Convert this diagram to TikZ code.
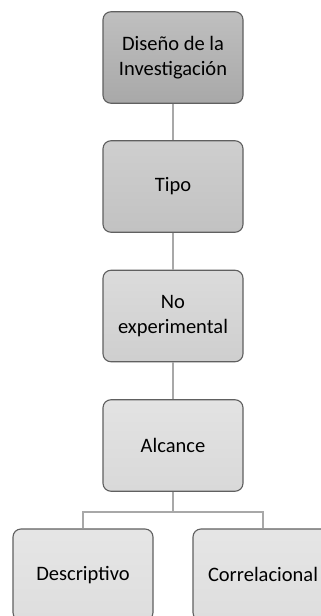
\documentclass[tikz,border=0pt]{standalone}
\usepackage{fontspec}
\setmainfont{Carlito}
\begin{document}
\begin{tikzpicture}[x=1pt,y=-1pt,
  box/.style={draw=boxline, line width=1.1pt, rounded corners=8pt,
    minimum width=140pt, minimum height=91.5pt, align=center,
    font=\fontsize{20.5}{24.5}\selectfont, text=black, inner sep=2pt},
  link/.style={draw=linkgray, line width=2.8pt},
]
\definecolor{boxline}{HTML}{606060}
\definecolor{linkgray}{HTML}{A8A8A8}
\useasboundingbox (0,0) rectangle (321,616);
\clip (0,0) rectangle (321,616);
\fill[white] (0,0) rectangle (321,616);

% branch points of the lower fork
\coordinate (split) at (173,512);
\coordinate (lsplit) at (83,512);
\coordinate (rsplit) at (263,512);

% hierarchy boxes, darker at the top
\node[box, top color=black!25, bottom color=black!34] (diseno) at (173,57.5) {Diseño de la\\Investigación};
\node[box, top color=black!19, bottom color=black!24] (tipo) at (173,186.5) {Tipo};
\node[box, top color=black!14, bottom color=black!19] (noexp) at (173,316) {No\\experimental};
\node[box, top color=black!11, bottom color=black!15] (alcance) at (173,445.5) {Alcance};
\node[box, top color=black!10, bottom color=black!13] (desc) at (83,574.75) {Descriptivo};
\node[box, top color=black!10, bottom color=black!13] (corr) at (263,574.75) {Correlacional};

% connectors
\draw[link] (diseno.south) -- (tipo.north);
\draw[link] (tipo.south) -- (noexp.north);
\draw[link] (noexp.south) -- (alcance.north);
\draw[link] (alcance.south) -- (split);
\draw[link, line cap=rect] (lsplit) -- (rsplit);
\draw[link] (lsplit) -- (desc.north);
\draw[link] (rsplit) -- (corr.north);
\end{tikzpicture}
\end{document}
